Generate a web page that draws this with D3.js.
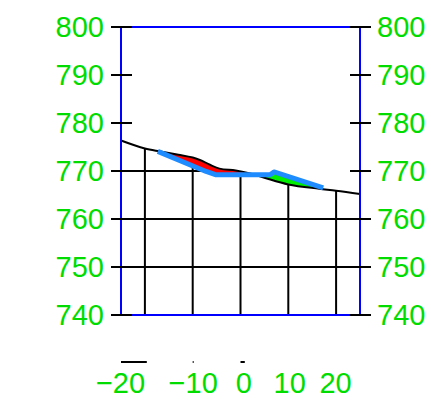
<!DOCTYPE html>
<html>
<head>
<meta charset="utf-8">
<script src="https://cdn.jsdelivr.net/npm/d3@7"></script>
<style>
  body { margin: 0; background: #fff; }
  text { font-family: "Liberation Sans", Arial, sans-serif; }
</style>
</head>
<body>
<div id="chart"></div>
<script>
// reference curve (black) and measured curve (blue)
var blackX = [-25, -20, -17, -13, -10, -8.5, -6.4, -4.4, -1, 2, 5, 10, 16.5, 20, 25];
var blackY = [776.35, 774.7, 774.1, 773.4, 772.8, 772.3, 771.3, 770.5, 770.1, 769.5, 768.6, 767.2, 766.3, 765.9, 765.2];

var blueX = [-17.3, -7.2, -5.1, 6.2, 7.0, 17.3];
var blueY = [774.1, 769.9, 769.2, 769.2, 769.8, 766.5];

var yTicks = [740, 750, 760, 770, 780, 790, 800];
var xGrid = [-20, -10, 0, 10, 20];
var xTickLabels = ["\u221220", "\u221210", "0", "10", "20"];
var xLabelPos = [-25.1, -9.9, 0.7, 10.3, 19.9];
// stray little marks above the x labels
var xMarks = [[-25, -19.6], [-10, -9.8], [0, 0.9]];

var margin = { top: 27, right: 71, bottom: 97, left: 121 };
var W = 431, H = 412;
var width = W - margin.left - margin.right,
    height = H - margin.top - margin.bottom;

var green = "#00dc00";

var svg = d3.select("#chart").append("svg")
    .attr("width", W)
    .attr("height", H);
var g = svg.append("g")
    .attr("transform", "translate(" + margin.left + "," + margin.top + ")");

var x = d3.scaleLinear().domain([-25, 25]).range([0, width]);
var y = d3.scaleLinear().domain([740, 800]).range([height, 0]);

var black = blackX.map(function(d, i) { return [d, blackY[i]]; });
var blue = blueX.map(function(d, i) { return [d, blueY[i]]; });

var curve = d3.curveMonotoneX;

// clip regions
var defs = svg.append("defs");
defs.append("clipPath").attr("id", "below-black").append("path")
    .attr("d", d3.area().curve(curve).x(function(d) { return x(d[0]); })
        .y0(height).y1(function(d) { return y(d[1]); })(black));
defs.append("clipPath").attr("id", "above-black").append("path")
    .attr("d", d3.area().curve(curve).x(function(d) { return x(d[0]); })
        .y0(0).y1(function(d) { return y(d[1]); })(black));
defs.append("clipPath").attr("id", "above-blue").append("path")
    .attr("d", d3.area().x(function(d) { return x(d[0]); })
        .y0(0).y1(function(d) { return y(d[1]); })(blue));

// grid, only under the black curve
var grid = g.append("g").attr("clip-path", "url(#below-black)");
grid.selectAll(".hg").data(yTicks).enter().append("line")
    .attr("x1", 0).attr("x2", width)
    .attr("y1", function(d) { return y(d); })
    .attr("y2", function(d) { return y(d); })
    .attr("stroke", "#000").attr("stroke-width", 2);
grid.selectAll(".vg").data(xGrid).enter().append("line")
    .attr("x1", function(d) { return x(d); })
    .attr("x2", function(d) { return x(d); })
    .attr("y1", 0).attr("y2", height)
    .attr("stroke", "#000").attr("stroke-width", 2);

// red: black above blue
g.append("path")
    .attr("clip-path", "url(#above-blue)")
    .attr("fill", "#ff0000")
    .attr("d", d3.area().curve(curve).x(function(d) { return x(d[0]); })
        .y0(height).y1(function(d) { return y(d[1]); })(black));

// green: blue above black
g.append("path")
    .attr("clip-path", "url(#above-black)")
    .attr("fill", "#00ee00")
    .attr("d", d3.area().x(function(d) { return x(d[0]); })
        .y0(height).y1(function(d) { return y(d[1]); })(blue));

// lines
g.append("path").datum(black)
    .attr("fill", "none").attr("stroke", "#000").attr("stroke-width", 2)
    .attr("d", d3.line().curve(curve).x(function(d) { return x(d[0]); }).y(function(d) { return y(d[1]); }));

g.append("path").datum(blue)
    .attr("fill", "none").attr("stroke", "#1e8cff").attr("stroke-width", 5)
    .attr("stroke-linejoin", "round")
    .attr("d", d3.line().x(function(d) { return x(d[0]); }).y(function(d) { return y(d[1]); }));

// frame
g.append("rect")
    .attr("x", 0).attr("y", 0).attr("width", width).attr("height", height)
    .attr("fill", "none").attr("stroke", "#0000ff").attr("stroke-width", 2);

// y ticks on both sides
[0, width].forEach(function(xp, side) {
    g.selectAll(".yt" + side).data(yTicks).enter().append("line")
        .attr("x1", xp - 10).attr("x2", xp + 11)
        .attr("y1", function(d) { return y(d); })
        .attr("y2", function(d) { return y(d); })
        .attr("stroke", "#000").attr("stroke-width", 2);
    g.selectAll(".yl" + side).data(yTicks).enter().append("text")
        .attr("x", side === 0 ? -17 : width + 17)
        .attr("y", function(d) { return y(d); })
        .attr("dy", "0.36em")
        .attr("text-anchor", side === 0 ? "end" : "start")
        .attr("font-size", 29)
        .attr("fill", green)
        .text(function(d) { return d; });
});

// stray marks and x labels
g.selectAll(".xm").data(xMarks).enter().append("line")
    .attr("x1", function(d) { return x(d[0]); })
    .attr("x2", function(d) { return x(d[1]); })
    .attr("y1", height + 47).attr("y2", height + 47)
    .attr("stroke", "#000").attr("stroke-width", 2);

g.selectAll(".xl").data(xTickLabels).enter().append("text")
    .attr("x", function(d, i) { return x(xLabelPos[i]); })
    .attr("y", height + 78)
    .attr("text-anchor", "middle")
    .attr("font-size", 29)
    .attr("fill", green)
    .text(function(d) { return d; });
</script>
</body>
</html>
